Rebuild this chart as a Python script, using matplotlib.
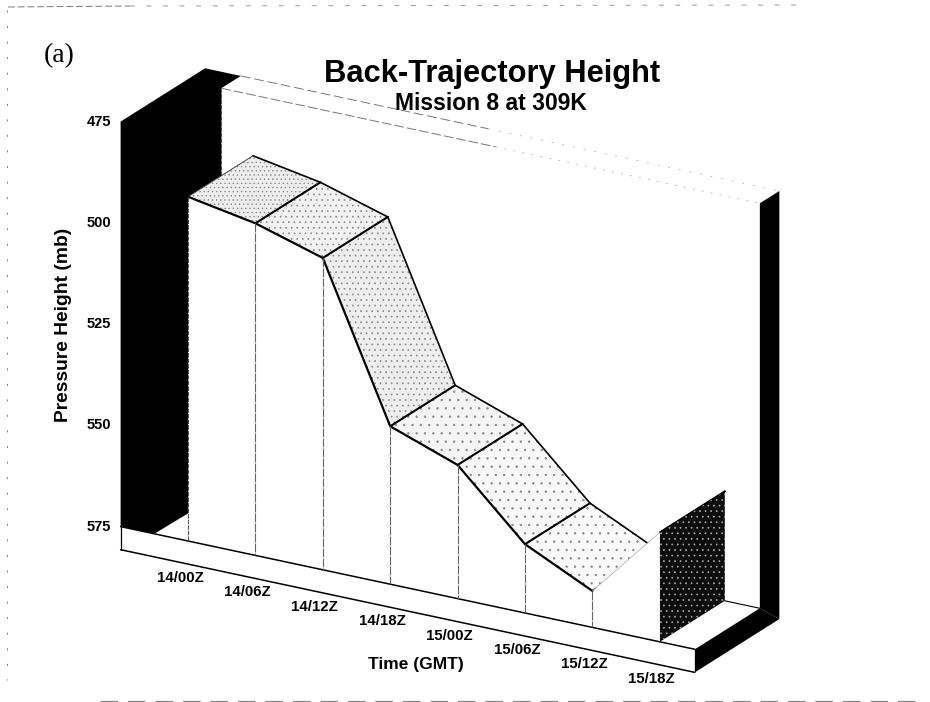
import matplotlib
matplotlib.use('Agg')
import matplotlib.pyplot as plt
from matplotlib.patches import Polygon

times = ['14/00Z', '14/06Z', '14/12Z', '14/18Z', '15/00Z', '15/06Z', '15/12Z', '15/18Z']
pressure = [490, 493, 498, 536, 542, 558, 566, 548]
yticks = [475, 500, 525, 550, 575]
ribbon_grey = ['#eeeeee', '#f2f2f2', '#eeeeee', '#f5f5f5', '#f8f8f8', '#fafafa', '#ffffff']
ribbon_hatch = ['....', '...', '...', '..', '..', '..', None]

p_top = 475
p_base = 575
p_floor = 580.7
t_left, t_wall, t_right = -1, -0.47, 7.52

plt.rcParams['font.family'] = ['Liberation Sans', 'DejaVu Sans']
plt.rcParams['hatch.linewidth'] = 0.5


# oblique projection: t = category index, p = pressure (mb), d = depth
def proj(t, p, d=0):
    return (188 + 67.4*t + 65*d, 541 + 14.4*t - 41*d - (p_base - p)*4.05)


def poly(ax, pts, fc, ec='none', hatch=None, z=1):
    xy = [proj(*q) for q in pts]
    ax.add_patch(Polygon(xy, closed=True, facecolor=fc, edgecolor=ec, hatch=hatch, linewidth=0, zorder=z))


def line(ax, pts, lw=1.0, color='black', ls='-', z=5):
    xs, ys = zip(*[proj(*q) for q in pts])
    ax.plot(xs, ys, color=color, lw=lw, ls=ls, zorder=z, solid_capstyle='round')


fig = plt.figure(figsize=(9.3, 7.02), dpi=100)
ax = fig.add_axes([0, 0, 1, 1])
ax.set_xlim(0, 930)
ax.set_ylim(702, 0)
ax.axis('off')

# scan border
ax.plot([8, 130], [7, 6], color='#777777', lw=0.7, ls=(0, (7, 3)))
ax.plot([130, 800], [6, 5], color='#999999', lw=0.7, ls=(0, (5, 12)))
ax.plot([100, 925], [701, 701], color='#888888', lw=0.9, ls=(0, (14, 8)))
ax.plot([7, 7], [10, 680], color='#777777', lw=0.7, ls=(0, (2, 14)))

# left wall
poly(ax, [(t_left, p_top, 0), (t_left, p_top, 1.3), (t_wall, p_top, 1.3), (t_wall, p_top, 1),
          (t_wall, p_base, 1), (t_left + 0.5, p_base, 0), (t_left, p_base, 0)], 'black', z=2)
# right wall
poly(ax, [(t_right, p_top, 1), (t_right, p_top, 1.3), (t_right, p_floor, 1.3), (t_right, p_base, 1)],
     'black', z=2)
# top of the back wall, fading out to the right as in the scan
line(ax, [(t_wall, p_top, 1.3), (3.2, p_top, 1.3)], 0.7, '#777777', (0, (10, 4)), 2)
line(ax, [(t_wall, p_top, 1), (3.6, p_top, 1)], 0.7, '#777777', (0, (10, 3)), 2)
line(ax, [(3.2, p_top, 1.3), (t_right, p_top, 1.3)], 0.6, '#aaaaaa', (0, (2, 11)), 2)
line(ax, [(3.6, p_top, 1), (t_right, p_top, 1)], 0.6, '#aaaaaa', (0, (2, 9)), 2)
line(ax, [(t_wall, p_top, 1), (t_wall, p_base, 1)], 0.8, '#555555', (0, (4, 1)), 2)

# floor
poly(ax, [(t_right, p_base, 0), (t_right, p_base, 1), (t_right, p_floor, 1.3), (t_right, p_floor, 0)],
     'black', z=3)
line(ax, [(t_left, p_base, 0), (t_right, p_base, 0)], 1.1, z=8)
line(ax, [(t_left, p_floor, 0), (t_right, p_floor, 0)], 1.1, z=8)
line(ax, [(t_left, p_base, 0), (t_left, p_floor, 0)], 0.9, z=8)
line(ax, [(7, p_base, 1), (t_right, p_base, 1)], 0.8, z=3)

# top surface of the area, one strip per time step
for i in range(len(pressure) - 1):
    a, b = pressure[i], pressure[i + 1]
    poly(ax, [(i, a, 0), (i + 1, b, 0), (i + 1, b, 1), (i, a, 1)], ribbon_grey[i], '#8a8a8a', ribbon_hatch[i], 4)
    line(ax, [(i, a, 1), (i + 1, b, 1)], 1.2, z=5)
    line(ax, [(i + 1, b, 0), (i + 1, b, 1)], 1.5, z=5)
line(ax, [(0, pressure[0], 0), (0, pressure[0], 1)], 0.7, '#444444', z=5)

# end cap
poly(ax, [(7, pressure[7], 0), (7, pressure[7], 1), (7, p_base, 1), (7, p_base, 0)], '#0c0c0c', '#aaaaaa', '...', 6)

# front face
front = [(i, pressure[i], 0) for i in range(len(pressure))]
poly(ax, front + [(7, p_base, 0), (0, p_base, 0)], 'white', z=7)
line(ax, front[:7], 1.6, z=8)
line(ax, front[6:], 0.5, '#aaaaaa', z=8)
line(ax, [(0, pressure[0], 0), (0, p_base, 0)], 0.8, '#555555', (0, (4, 1)), 8)
for i in range(1, 7):
    line(ax, [(i, pressure[i], 0), (i, p_base, 0)], 0.8, '#666666', (0, (8, 1)), 8)

# labels
for p in yticks:
    ax.text(111, proj(-1, p)[1], str(p), ha='right', va='center', fontsize=10.5, fontweight='bold')
for i, s in enumerate(times):
    x, y = proj(i, p_base)
    ax.text(x - 8, y + 37, s, ha='center', va='center', fontsize=10.8, fontweight='bold')

ax.text(492, 74, 'Back-Trajectory Height', ha='center', va='center', fontsize=22.2, fontweight='bold')
ax.text(491, 104, 'Mission 8 at 309K', ha='center', va='center', fontsize=16.5, fontweight='bold')
ax.text(63, 325, 'Pressure Height (mb)', rotation=90, ha='center', va='center', fontsize=13.9, fontweight='bold')
ax.text(416, 665, 'Time (GMT)', ha='center', va='center', fontsize=12.5, fontweight='bold')
ax.text(59, 56, '(a)', ha='center', va='center', fontsize=20, family=['Liberation Serif'])

fig.savefig('out.png', dpi=100)
